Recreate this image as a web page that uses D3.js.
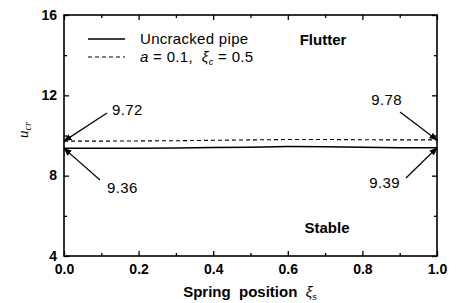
<!DOCTYPE html>
<html>
<head>
<meta charset="utf-8">
<script src="https://cdn.jsdelivr.net/npm/d3@7"></script>
<style>
  body { margin: 0; background: #fff; }
  text { font-family: "Liberation Sans", Arial, sans-serif; fill: #000; white-space: pre; }
</style>
</head>
<body>
<div id="chart"></div>
<script>
const width = 456;
const height = 303;

// spring position and critical flow velocity
const positions = [0.0, 0.1, 0.2, 0.3, 0.4, 0.5, 0.6, 0.7, 0.8, 0.9, 1.0];
const uncracked = [9.36, 9.36, 9.37, 9.38, 9.40, 9.42, 9.45, 9.44, 9.41, 9.39, 9.39];
const cracked = [9.72, 9.72, 9.73, 9.74, 9.76, 9.78, 9.80, 9.80, 9.79, 9.78, 9.78];

const xTicks = [0.0, 0.2, 0.4, 0.6, 0.8, 1.0];
const yTicks = [4, 8, 12, 16];
const xMinor = [0.1, 0.3, 0.5, 0.7, 0.9];
const yMinor = [6, 10, 14];

const legendLabels = ["Uncracked pipe", "a = 0.1,  \u03BEc = 0.5"];

const margin = { left: 64, right: 19, top: 15, bottom: 47 };

const x = d3.scaleLinear().domain([0, 1]).range([margin.left, width - margin.right]);
const y = d3.scaleLinear().domain([4, 16]).range([height - margin.bottom, margin.top]);

const svg = d3.select("#chart").append("svg")
  .attr("width", width)
  .attr("height", height);

const defs = svg.append("defs");
defs.append("marker")
  .attr("id", "arrow")
  .attr("viewBox", "0 0 10 10")
  .attr("refX", 9).attr("refY", 5)
  .attr("markerWidth", 7).attr("markerHeight", 7)
  .attr("orient", "auto")
  .append("path")
  .attr("d", "M0,1 L10,5 L0,9 z")
  .attr("fill", "#000");

// axes, ticks pointing inward on all four sides
function tickAxis(axis, tickVals, size, fmt) {
  return axis.tickValues(tickVals).tickSizeInner(-size).tickSizeOuter(0).tickPadding(7)
    .tickFormat(fmt);
}

const gx = svg.append("g").attr("transform", `translate(0,${y(4)})`)
  .call(tickAxis(d3.axisBottom(x), xTicks, 5, d3.format(".1f")));
svg.append("g").attr("transform", `translate(0,${y(4)})`)
  .call(tickAxis(d3.axisBottom(x), xMinor, 3, () => ""));
svg.append("g").attr("transform", `translate(0,${y(16)})`)
  .call(tickAxis(d3.axisTop(x), xTicks, 5, () => ""));
svg.append("g").attr("transform", `translate(0,${y(16)})`)
  .call(tickAxis(d3.axisTop(x), xMinor, 3, () => ""));

const gy = svg.append("g").attr("transform", `translate(${x(0)},0)`)
  .call(tickAxis(d3.axisLeft(y), yTicks, 5, d3.format("d")));
svg.append("g").attr("transform", `translate(${x(0)},0)`)
  .call(tickAxis(d3.axisLeft(y), yMinor, 3, () => ""));
svg.append("g").attr("transform", `translate(${x(1)},0)`)
  .call(tickAxis(d3.axisRight(y), yTicks, 5, () => ""));
svg.append("g").attr("transform", `translate(${x(1)},0)`)
  .call(tickAxis(d3.axisRight(y), yMinor, 3, () => ""));

svg.selectAll(".domain").remove();
svg.selectAll(".tick line").attr("stroke", "#000").attr("stroke-width", 1.3);
svg.selectAll(".tick text")
  .style("font-family", "'Liberation Sans', Arial, sans-serif")
  .style("font-size", "14px")
  .style("font-weight", "bold");
gy.selectAll(".tick text").attr("dy", "0.3em");
gx.selectAll(".tick text").attr("dy", "0.78em");

svg.append("rect")
  .attr("x", x(0)).attr("y", y(16))
  .attr("width", x(1) - x(0)).attr("height", y(4) - y(16))
  .attr("fill", "none").attr("stroke", "#000").attr("stroke-width", 1.6);

// curves
const line = d3.line().x((d) => x(d[0])).y((d) => y(d[1]));
svg.append("path")
  .datum(positions.map((p, i) => [p, uncracked[i]]))
  .attr("d", line).attr("fill", "none").attr("stroke", "#000").attr("stroke-width", 1.5);
svg.append("path")
  .datum(positions.map((p, i) => [p, cracked[i]]))
  .attr("d", line).attr("fill", "none").attr("stroke", "#000").attr("stroke-width", 1.1)
  .attr("stroke-dasharray", "4,3");

// legend
const lg = svg.append("g");
lg.append("line").attr("x1", 88).attr("x2", 125).attr("y1", 39).attr("y2", 39)
  .attr("stroke", "#000").attr("stroke-width", 1.5);
lg.append("text").attr("x", 140).attr("y", 39).attr("dy", "0.35em")
  .style("font-size", "15px").style("letter-spacing", "0.3px").text(legendLabels[0]);
lg.append("line").attr("x1", 88).attr("x2", 125).attr("y1", 57).attr("y2", 57)
  .attr("stroke", "#000").attr("stroke-width", 1.1).attr("stroke-dasharray", "4,3");
const t2 = lg.append("text").attr("x", 140).attr("y", 57).attr("dy", "0.35em")
  .style("font-size", "15px").style("letter-spacing", "0.3px");
t2.append("tspan").style("font-style", "italic").text("a");
t2.append("tspan").text(" = 0.1,  ");
t2.append("tspan").style("font-style", "italic").text("\u03BE");
t2.append("tspan").style("font-style", "italic").style("font-size", "9px").attr("dy", "3").text("c");
t2.append("tspan").attr("dy", "-3").text(" = 0.5");

// region labels
svg.append("text").attr("x", 323).attr("y", 45).attr("text-anchor", "middle")
  .style("font-size", "15px").style("font-weight", "bold").text("Flutter");
svg.append("text").attr("x", 327).attr("y", 233).attr("text-anchor", "middle")
  .style("font-size", "15px").style("font-weight", "bold").text("Stable");

// value annotations with arrows to the curve ends
const notes = [
  { label: "9.72", px: 0, val: cracked[0], tx: 112, ty: 110, lx: 107, ly: 113, anchor: "start" },
  { label: "9.36", px: 0, val: uncracked[0], tx: 107, ty: 188, lx: 100, ly: 180, anchor: "start" },
  { label: "9.78", px: 1, val: cracked[cracked.length - 1], tx: 402, ty: 100, lx: 400, ly: 112, anchor: "end" },
  { label: "9.39", px: 1, val: uncracked[uncracked.length - 1], tx: 400, ty: 183, lx: 406, ly: 178, anchor: "end" },
];
notes.forEach((n) => {
  svg.append("line")
    .attr("x1", n.lx).attr("y1", n.ly)
    .attr("x2", x(n.px)).attr("y2", y(n.val))
    .attr("stroke", "#000").attr("stroke-width", 1.2)
    .attr("marker-end", "url(#arrow)");
  svg.append("text").attr("x", n.tx).attr("y", n.ty).attr("dy", "0.35em")
    .attr("text-anchor", n.anchor)
    .style("font-size", "15px").style("letter-spacing", "0.4px").text(n.label);
});

// axis titles
const xt = svg.append("text").attr("x", 250).attr("y", 297).attr("text-anchor", "middle")
  .style("font-size", "15px").style("font-weight", "bold");
xt.append("tspan").text("Spring  position  ");
xt.append("tspan").style("font-style", "italic").style("font-weight", "normal").text("\u03BE");
xt.append("tspan").style("font-style", "italic").style("font-weight", "normal")
  .style("font-size", "9px").attr("dy", "3").text("s");

const yt = svg.append("text")
  .attr("transform", "translate(28,130) rotate(-90)")
  .attr("text-anchor", "middle")
  .style("font-size", "15px").style("font-family", "'Liberation Serif', serif");
yt.append("tspan").style("font-style", "italic").text("u");
yt.append("tspan").style("font-style", "italic").style("font-size", "10px").attr("dy", "3").text("cr");
</script>
</body>
</html>
